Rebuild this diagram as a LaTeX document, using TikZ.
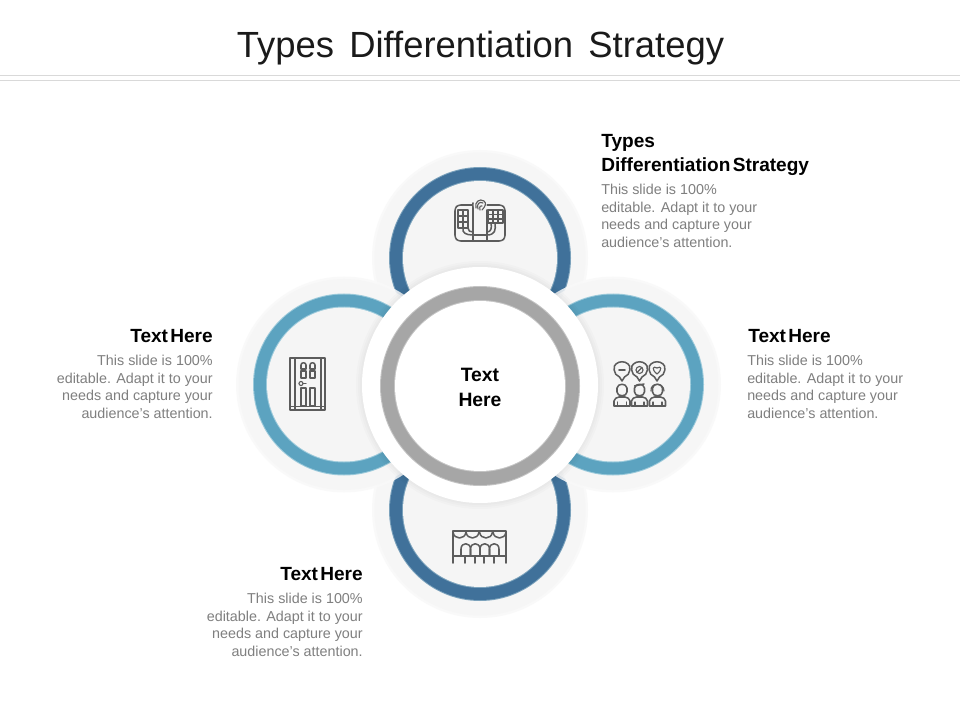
\documentclass[tikz,border=0pt]{standalone}
\usepackage{fontspec}
\setmainfont{Liberation Sans}
\definecolor{ttl}{HTML}{1A1A1A}
\definecolor{bodyc}{HTML}{7F7F7F}
\definecolor{halo}{HTML}{F6F6F6}
\definecolor{halob}{HTML}{F9F9F9}
\definecolor{disc}{HTML}{F5F5F5}
\definecolor{rule}{HTML}{D9D9D9}
\definecolor{icon}{HTML}{5C5C5C}
\definecolor{navy}{HTML}{40719A}
\definecolor{navyd}{HTML}{7BA2BC}
\definecolor{teal}{HTML}{5CA3C0}
\definecolor{teald}{HTML}{9CCADB}
\definecolor{greyr}{HTML}{A6A6A6}
\definecolor{greyd}{HTML}{C4C4C4}
\newcommand{\titlesp}{\spaceskip 0.42em\relax}
\newcommand{\headsp}{\spaceskip 0.12em\relax}
\tikzset{
  px/.style={x=0.75pt,y=-0.75pt},
  titletext/.style={font=\fontsize{27.3pt}{32pt}\selectfont\titlesp,text=ttl,inner sep=0pt},
  headtext/.style={font=\fontsize{14.3pt}{17.5pt}\bfseries\selectfont\headsp,text=black,inner sep=0pt},
  bodytext/.style={font=\fontsize{10.75pt}{13.25pt}\selectfont,text=bodyc,inner sep=0pt},
  ln/.style={draw=icon,line width=1.15pt,line join=round,line cap=round},
  lnn/.style={draw=icon,line width=0.85pt,line join=round,line cap=round},
}
% #1,#2 centre; #3 ring; #4 ring rim; #5 halo opacity
\newcommand{\ringdisc}[5]{%
  \fill[halob,fill opacity=#5] (#1,#2) circle (108);
  \fill[halo,fill opacity=#5] (#1,#2) circle (105.5);
  \fill[#4] (#1,#2) circle (91);
  \fill[#3] (#1,#2) circle (90);
  \fill[#4] (#1,#2) circle (78);
  \fill[disc] (#1,#2) circle (77);
}
\newcommand{\person}[1]{%
  \draw[ln] (#1-5,388) -- (#1-5,392) .. controls (#1-5,397) and (#1+5,397) .. (#1+5,392) -- (#1+5,388) .. controls (#1+4,383) and (#1-4,383) .. (#1-5,388) -- cycle;
  \draw[ln] (#1-8,406) -- (#1-8,401) .. controls (#1-8,398) and (#1-5,398) .. (#1-3,397) -- (#1+3,397) .. controls (#1+5,398) and (#1+8,398) .. (#1+8,401) -- (#1+8,406) -- cycle;
  \draw[lnn] (#1-4.5,406) -- (#1-4.5,402) (#1+4.5,406) -- (#1+4.5,402);
}
\newcommand{\bubble}[1]{%
  \draw[ln] (#1-2.5,377) .. controls (#1-9,375) and (#1-9,365) .. (#1-6,364) .. controls (#1-3,361) and (#1+3,361) .. (#1+6,364) .. controls (#1+9,365) and (#1+9,375) .. (#1+2.5,377) -- (#1,381) -- cycle;
}
\newcommand{\seat}[1]{%
  \draw[ln] (#1,556) -- (#1,549) .. controls (#1,542) and (#1+9.5,542) .. (#1+9.5,549) -- (#1+9.5,556);
}
\newcommand{\scallop}[1]{%
  \draw[ln] (#1,532) .. controls (#1+1,540) and (#1+12,540) .. (#1+13,532);
}
\begin{document}
\begin{tikzpicture}[px]
\useasboundingbox (0,0) rectangle (960,720);
\fill[white] (0,0) rectangle (960,720);
% header rules
\draw[rule,line width=0.9pt] (0,75.5) coordinate (r1a) -- (960,75.5) coordinate (r1b);
\draw[rule,line width=0.9pt] (0,80.5) coordinate (r2a) -- (960,80.5) coordinate (r2b);
\node[titletext] (title) at (480.5,48) {Types Differentiation Strategy};
% rings
\ringdisc{480}{258}{navy}{navyd}{1}
\ringdisc{480}{510}{navy}{navyd}{1}
\ringdisc{344}{384.5}{teal}{teald}{0.85}
\ringdisc{613}{384.5}{teal}{teald}{0.85}
% soft shadow and central disc
\foreach \r in {124,122,120}{\fill[black,fill opacity=0.015] (480,385) circle (\r);}
\fill[white] (480,385) circle (118);
\fill[greyd] (480,386) circle (100);
\fill[greyr] (480,386) circle (99);
\fill[greyd] (480,386) circle (86);
\fill[white] (480,386) circle (85);
\node[headtext,align=center,font=\fontsize{14.5pt}{18.75pt}\bfseries\selectfont] (centre) at (480,387) {Text\\Here};
% top icon
\draw[ln,rounded corners=2pt] (473,205) -- (458,205) -- (455,208) -- (455,238) -- (458,241) -- (502,241) -- (505,238) -- (505,208) -- (502,205) -- (487,205);
\draw[ln] (473,203) -- (473,241) (487,210) -- (487,241);
\draw[lnn] (458,210) rectangle (468,228);
\draw[lnn] (463,210) -- (463,228) (458,216) -- (468,216) (458,222) -- (468,222);
\draw[lnn] (488,210) rectangle (503,223);
\draw[lnn] (493,210) -- (493,223) (498,210) -- (498,223) (488,214.5) -- (503,214.5) (488,219) -- (503,219);
\draw[ln] (463,228) .. controls (462,233) and (466,235) .. (473,235) -- (487,235) .. controls (495,235) and (496,230) .. (495,223);
\draw[ln] (468,228) .. controls (468,231) and (470,232) .. (473,232) (487,232) .. controls (491,232) and (492,228) .. (491,223);
\fill[disc] (480,205) circle (6.5);
\draw[lnn] (476,208) .. controls (474,202) and (480,198) .. (484,201) .. controls (487,203) and (485,207) .. (482,210);
\draw[lnn] (478,209) .. controls (476,204) and (480,201) .. (483,203) (480,210) .. controls (479,206) and (481,205) .. (482,206);
% door icon
\draw[ln] (290,410) -- (290,358) -- (325,358) -- (325,410) -- cycle;
\draw[lnn] (295,358) -- (295,410) (321,358) -- (321,410) (290,406.5) -- (325,406.5);
\draw[ln] (301,369) -- (301,365) .. controls (301,362) and (306,362) .. (306,365) -- (306,369) -- cycle;
\draw[ln] (310,369) -- (310,365) .. controls (310,362) and (315,362) .. (315,365) -- (315,369) -- cycle;
\draw[ln] (301,371) rectangle (306,378);
\draw[ln] (310,371) rectangle (315,378);
\draw[ln] (301,388) rectangle (306,406);
\draw[ln] (310,388) rectangle (315,406);
\draw[lnn] (301,383.5) circle (2);
\draw[lnn] (303,383.5) -- (306,383.5);
% people icon
\bubble{622}\bubble{639.5}\bubble{657}
\draw[ln] (619,370) -- (625,370);
\draw[lnn] (639.5,370) circle (3.5);
\draw[lnn] (637,372.5) -- (642,367.5);
\draw[lnn] (657,374) .. controls (651,369) and (653,365.5) .. (657,368) .. controls (661,365.5) and (663,369) .. (657,374) -- cycle;
\person{622}\person{639.5}\person{657.5}
\draw[ln] (634.5,386) -- (644,384);
\draw[lnn] (651,391) .. controls (650,382) and (664,382) .. (664,391);
% stage icon
\draw[ln] (453,563) -- (453,531) -- (506,531) -- (506,563);
\scallop{453}\scallop{466}\scallop{479.5}\scallop{493}
\seat{461}\seat{470.5}\seat{480}\seat{489.5}
\draw[ln] (453,556) -- (506,556);
\draw[ln] (465,556) -- (465,563) (475,556) -- (475,563) (484,556) -- (484,563) (494,556) -- (494,563);
% texts
\node[headtext,anchor=north west,align=left] (h1) at (601,134.5) {Types\\Differentiation Strategy};
\node[bodytext,anchor=north west,align=left] (b1) at (601,184) {This slide is 100\%\\editable. Adapt it to your\\needs and capture your\\audience's attention.};
\node[headtext,anchor=north west,align=left] (h2) at (748,329.5) {Text Here};
\node[bodytext,anchor=north west,align=left] (b2) at (747,355) {This slide is 100\%\\editable. Adapt it to your\\needs and capture your\\audience's attention.};
\node[headtext,anchor=north east,align=right] (h3) at (213,329.5) {Text Here};
\node[bodytext,anchor=north east,align=right] (b3) at (213,355) {This slide is 100\%\\editable. Adapt it to your\\needs and capture your\\audience's attention.};
\node[headtext,anchor=north east,align=right] (h4) at (363,567.5) {Text Here};
\node[bodytext,anchor=north east,align=right] (b4) at (363,593) {This slide is 100\%\\editable. Adapt it to your\\needs and capture your\\audience's attention.};
\end{tikzpicture}
\end{document}
